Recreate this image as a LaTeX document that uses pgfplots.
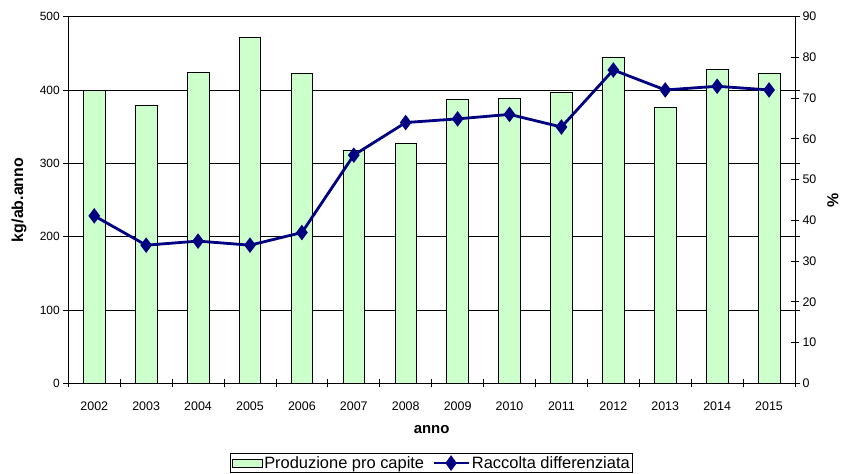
\documentclass[border=0pt]{standalone}
\usepackage{pgfplots}
\pgfplotsset{compat=1.18}
\usepackage{fontspec}
\setmainfont{Liberation Sans}
\definecolor{bargreen}{RGB}{204,255,204}
\definecolor{navyline}{RGB}{0,0,128}

\begin{document}
\begin{tikzpicture}
\begin{axis}[
  at={(0bp,0bp)}, anchor=south west,
  scale only axis, width=726.7bp, height=366.7bp,
  xmin=-0.5, xmax=13.5, ymin=0, ymax=500,
  xtick={0,1,2,3,4,5,6,7,8,9,10,11,12,13},
  xticklabels={2002,2003,2004,2005,2006,2007,2008,2009,2010,2011,2012,2013,2014,2015},
  major x tick style={draw=none},
  ytick={0,100,200,300,400,500},
  ymajorgrids, grid style={black, line width=0.7bp},
  axis line style={black, line width=0.8bp},
  tick style={black, line width=0.8bp},
  tick align=outside, major tick length=5bp,
  /pgf/number format/assume math mode=true,
  xticklabel style={font=\fontsize{12.5}{14}\selectfont, anchor=center, yshift=-18.4bp},
  yticklabel style={font=\fontsize{12}{14}\selectfont},
  xlabel={\textbf{anno}},
  xlabel style={font=\fontsize{15}{18}\selectfont, at={(axis description cs:0.5,0)}, anchor=center, yshift=-46.7bp},
  ylabel={\textbf{kg/ab.anno}},
  ylabel style={font=\fontsize{16}{18}\selectfont, at={(axis description cs:0,0.5)}, anchor=center, yshift=49.3bp},
]
\addplot[ybar, bar width=21.7bp, fill=bargreen, draw=black, line width=0.7bp] coordinates {
(0,399) (1,378.6) (2,424) (3,471.8) (4,423) (5,317.7) (6,326.7)
(7,387.3) (8,389) (9,396.8) (10,444.5) (11,375.8) (12,427.7) (13,423)
};
\end{axis}
\begin{axis}[
  at={(0bp,0bp)}, anchor=south west,
  scale only axis, width=726.7bp, height=366.7bp,
  xmin=-0.5, xmax=13.5, ymin=0, ymax=90,
  axis x line*=bottom, axis y line*=right,
  xtick={-0.5,0.5,1.5,2.5,3.5,4.5,5.5,6.5,7.5,8.5,9.5,10.5,11.5,12.5,13.5},
  xticklabels={},
  ytick={0,10,20,30,40,50,60,70,80,90},
  axis line style={black, line width=0.8bp},
  tick style={black, line width=0.8bp},
  tick align=center, major tick length=8bp,
  /pgf/number format/assume math mode=true,
  yticklabel style={font=\fontsize{12.5}{14}\selectfont},
  ylabel={\textbf{\%}},
  ylabel style={font=\fontsize{16}{18}\selectfont, at={(axis description cs:1,0.5)}, anchor=center, yshift=-38bp},
  legend columns=2,
  legend style={at={(0.5,-0.19)}, anchor=north, draw=black, line width=0.8bp,
    font=\fontsize{16.5}{18}\selectfont, inner sep=1bp, row sep=0bp,
    /tikz/every even column/.append style={column sep=6bp}},
]
\addlegendimage{legend image code/.code={\draw[fill=bargreen, draw=black, line width=0.7bp] (0bp,-4bp) rectangle (30bp,4bp);}}
\addlegendentry{Produzione pro capite}
\addplot[color=navyline, line width=2.8bp, mark=diamond*, mark size=5.5bp, mark options={solid},
  legend image code/.code={\draw[navyline, line width=2.8bp] (0bp,0bp) -- (35bp,0bp); \fill[navyline] (17.5bp,5.5bp) -- (21.5bp,0bp) -- (17.5bp,-5.5bp) -- (13.5bp,0bp) -- cycle;}]
coordinates {
(0,41.1) (1,33.9) (2,34.9) (3,33.9) (4,37) (5,56) (6,64)
(7,64.9) (8,66) (9,62.9) (10,76.9) (11,72) (12,72.9) (13,72)
};
\addlegendentry{Raccolta differenziata}
\end{axis}
\pgfresetboundingbox
\path (-68.3bp,-90.7bp) rectangle (772.7bp,383.3bp);
\end{tikzpicture}
\end{document}
